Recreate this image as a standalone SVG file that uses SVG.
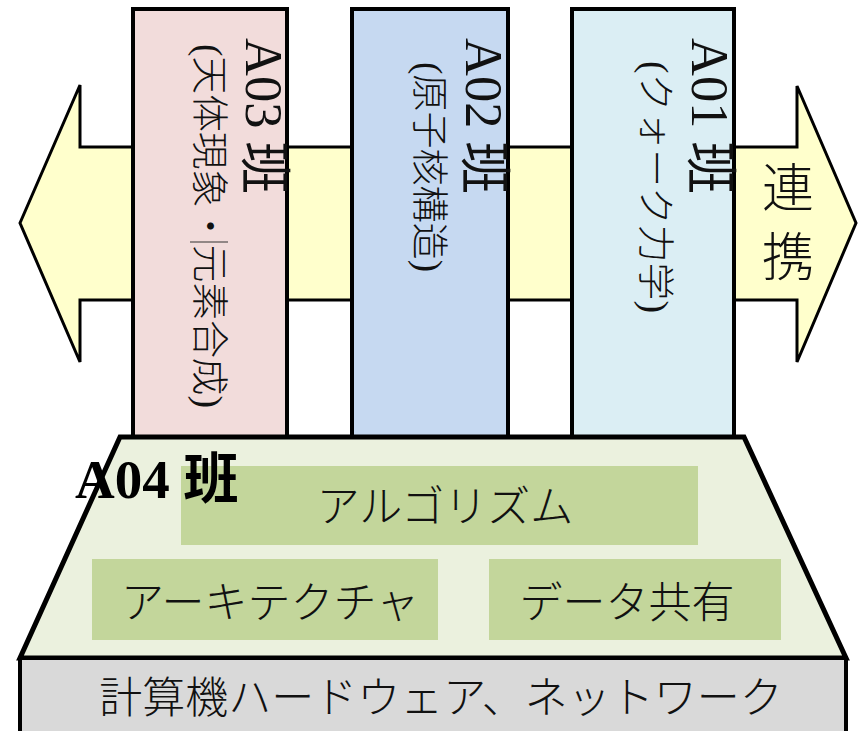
<svg xmlns="http://www.w3.org/2000/svg" width="863" height="731" viewBox="0 0 863 731">
<style>
.ol{stroke:#000;stroke-linejoin:miter}
.vt{font-family:"Liberation Serif","Noto Sans CJK JP",serif;fill:#111}
.main{font-size:52px}
.sub{font-size:37px;font-weight:300}
.jp{font-family:"Noto Sans CJK JP","Liberation Serif",sans-serif;font-size:43px;font-weight:300;fill:#111;text-anchor:middle}
.green{fill:#c3d69b}
</style>
<rect width="863" height="731" fill="#fff"/>
<g id="connectors">
<polygon id="renkei-arrow" class="ol" fill="#ffffcc" stroke-width="3" points="20,223 80,85 80,147 797,147 797,86 856,223 797,362 797,300 80,300 80,362"/>
<text class="jp" style="font-size:52px" x="788" y="207">連</text>
<text class="jp" style="font-size:52px" x="788" y="276">携</text>
</g>
<g id="A03">
<rect class="ol" x="133" y="9" width="154" height="432" fill="#f2dcdb" stroke-width="4"/>
<text class="vt main" transform="translate(246,38) rotate(90)" textLength="156" lengthAdjust="spacingAndGlyphs">A03 班</text>
<text class="vt sub" transform="translate(196,44) rotate(90)" textLength="364" lengthAdjust="spacingAndGlyphs">(天体現象・元素合成)</text>
<line x1="190" y1="242" x2="228" y2="242" stroke="#333" stroke-width="1.2"/>
</g>
<g id="A02">
<rect class="ol" x="352" y="9" width="156" height="432" fill="#c6d9f1" stroke-width="4"/>
<text class="vt main" transform="translate(466,38) rotate(90)" textLength="156" lengthAdjust="spacingAndGlyphs">A02 班</text>
<text class="vt sub" transform="translate(416,62) rotate(90)" textLength="210" lengthAdjust="spacingAndGlyphs">(原子核構造)</text>
</g>
<g id="A01">
<rect class="ol" x="572" y="9" width="162" height="432" fill="#dbeef4" stroke-width="4"/>
<text class="vt main" transform="translate(692,38) rotate(90)" textLength="156" lengthAdjust="spacingAndGlyphs">A01 班</text>
<text class="vt sub" transform="translate(642,61) rotate(90)" textLength="252" lengthAdjust="spacingAndGlyphs">(クォーク力学)</text>
</g>
<g id="A04">
<polygon class="ol" fill="#ebf1de" stroke-width="5" points="120,437 744,437 846,658 20,658"/>
<g id="algorithm">
<rect class="green" x="181" y="466" width="517" height="79"/>
<text class="jp" x="445" y="522">アルゴリズム</text>
</g>
<g id="architecture">
<rect class="green" x="92" y="559" width="346" height="81"/>
<text class="jp" x="270" y="618">アーキテクチャ</text>
</g>
<g id="data-sharing">
<rect class="green" x="489" y="559" width="292" height="81"/>
<text class="jp" x="627" y="618">データ共有</text>
</g>
<text x="75" y="498" style="font-family:'Liberation Serif','Noto Sans CJK JP',serif;font-size:55px;font-weight:bold;fill:#000">A04 班</text>
</g>
<g id="hardware">
<rect class="ol" x="20" y="658" width="826" height="90" fill="#d9d9d9" stroke-width="4"/>
<text class="jp" x="441" y="713">計算機ハードウェア、ネットワーク</text>
</g>
</svg>
